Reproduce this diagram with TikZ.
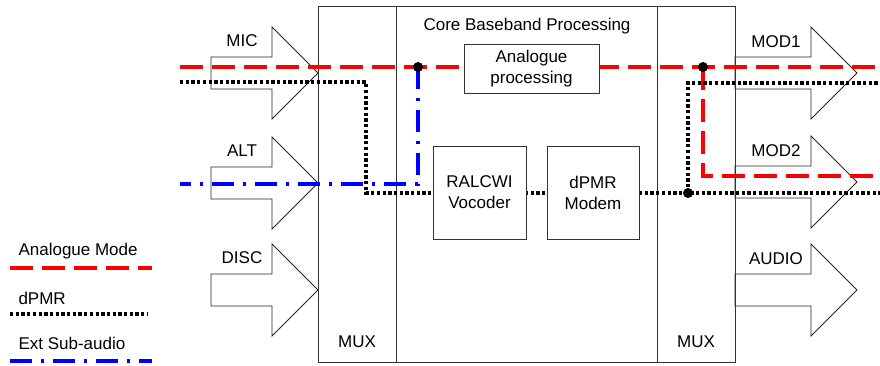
\documentclass[tikz,border=0pt]{standalone}
\usepackage{fontspec}
\setmainfont{Liberation Sans}
\begin{document}
\begin{tikzpicture}[x=1pt,y=-1pt,
    font=\fontsize{17}{21}\selectfont,
    frame/.style={draw=black!80, line width=1pt},
    block/.style={draw=black!80, fill=white, line width=1pt, align=center, inner sep=0pt},
    bigarrow/.style={draw=black!85, fill=white, line width=0.8pt},
    analogue/.style={red, line width=3.2pt, dash pattern=on 23pt off 9pt},
    digital/.style={black, line width=3.5pt, dash pattern=on 3.3pt off 2.4pt},
    subaudio/.style={blue, line width=3.2pt, dash pattern=on 22pt off 9pt on 3pt off 9pt},
    junction/.style={circle, fill=black, inner sep=0pt, minimum size=10pt}]

  \useasboundingbox (0,0) rectangle (880,365);

  % inputs
  \foreach \y/\lab/\nm in {73/MIC/mic, 183/ALT/alt, 290/DISC/disc}{
    \draw[bigarrow] (211,\y-16) -- (272,\y-16) -- (272,\y-46) -- (318,\y)
      -- (272,\y+46) -- (272,\y+16) -- (211,\y+16) -- cycle;
    \node (\nm) at (242,\y-32) {\lab};
  }
  % outputs
  \foreach \y/\lab/\nm in {73/MOD1/modone, 182/MOD2/modtwo, 290/AUDIO/audio}{
    \draw[bigarrow] (735,\y-16) -- (811,\y-16) -- (811,\y-46) -- (857,\y)
      -- (811,\y+46) -- (811,\y+16) -- (735,\y+16) -- cycle;
    \node (\nm) at (776,\y-31) {\lab};
  }

  % mux and core
  \draw[frame] (318,6) rectangle (735,362);
  \draw[frame] (396,6) -- (396,362) (657,6) -- (657,362);
  \node (coretitle) at (527,26) {Core Baseband Processing};
  \node (muxin) at (357,342) {MUX};
  \node (muxout) at (696,342) {MUX};

  % signal paths
  \coordinate (anain) at (180,67);
  \coordinate (digin) at (180,82);
  \coordinate (subin) at (180,184);
  \coordinate (anasplit) at (418,67);
  \coordinate (digbend) at (366,193);
  \coordinate (modsplit) at (703,67);
  \coordinate (digsplit) at (688,193);
  \coordinate (anaout) at (880,67);
  \coordinate (anaouttwo) at (880,176);
  \coordinate (digout) at (880,193);
  \coordinate (digouttwo) at (880,83);

  \draw[analogue] (anain) -- (anaout);
  \draw[analogue] (modsplit) |- (anaouttwo);
  \draw[subaudio] (anasplit) |- (subin);
  \draw[digital] (digin) -| (digbend) -- (digout);
  \draw[digital] (digsplit) |- (digouttwo);

  \node[junction] (anadot) at (anasplit) {};
  \node[junction] (moddot) at (modsplit) {};
  \node[junction] (digdot) at (digsplit) {};

  % processing blocks
  \node[block, minimum width=135, minimum height=49] (anaproc) at (531.5,68.5) {Analogue\\processing};
  \node[block, minimum width=93, minimum height=93] (vocoder) at (479.5,192.5) {RALCWI\\Vocoder};
  \node[block, minimum width=92, minimum height=93] (modem) at (593,192.5) {dPMR\\Modem};

  % legend
  \node[anchor=west] (leganalogue) at (15,251) {Analogue Mode};
  \draw[analogue] (10,268) -- (152,268);
  \node[anchor=west] (legdigital) at (15,298) {dPMR};
  \draw[digital] (10,314) -- (148,314);
  \node[anchor=west] (legsub) at (15,343) {Ext Sub-audio};
  \draw[subaudio] (10,361) -- (152,361);
\end{tikzpicture}
\end{document}
